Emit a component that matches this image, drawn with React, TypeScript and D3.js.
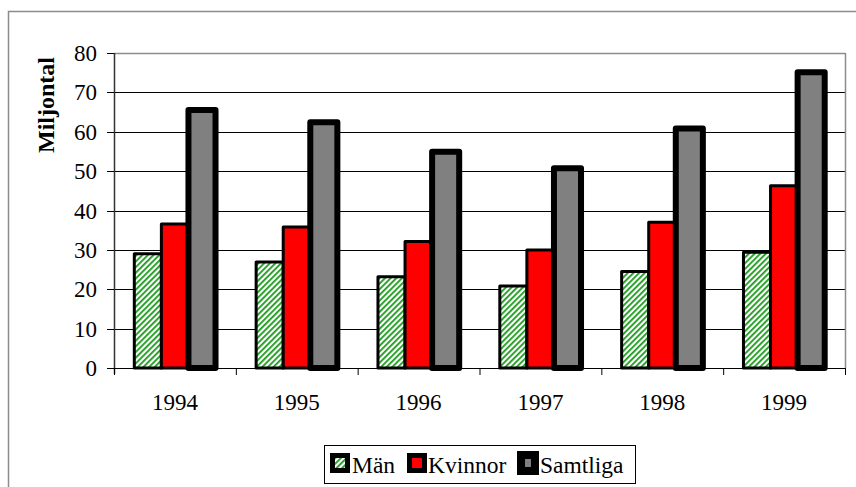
import React from "react";
import * as d3 from "d3";

const years = ["1994", "1995", "1996", "1997", "1998", "1999"];
const seriesNames = ["Män", "Kvinnor", "Samtliga"];
const man = [29, 26.9, 23.2, 20.8, 24.5, 29.4];
const kvinnor = [36.6, 35.8, 32.1, 30.0, 37.0, 46.3];
const samtliga = [65.5, 62.4, 54.9, 50.7, 60.8, 75.1];
const yTicks = [0, 10, 20, 30, 40, 50, 60, 70, 80];
const yTitle = "Miljontal";

const W = 856;
const H = 487;
const plot = { left: 114, right: 845, top: 53, bottom: 368 };

export default function App() {
  const values = [man, kvinnor, samtliga];
  const x0 = d3.scaleBand<string>().domain(years).range([plot.left, plot.right]).padding(0);
  const gw = x0.bandwidth();
  const bw = gw / 4.5;
  const x1 = d3
    .scaleBand<string>()
    .domain(seriesNames)
    .range([bw * 0.75, bw * 3.75])
    .padding(0);
  const y = d3.scaleLinear().domain([0, 80]).range([plot.bottom, plot.top]);

  const fills = ["url(#hatch)", "#ff0000", "#808080"];
  const strokes = [3, 3, 6];
  const fontStyle = { fontFamily: "Liberation Serif, DejaVu Serif, serif" };

  const boundaries = years.map((yr) => x0(yr) as number).concat([plot.right]);

  const legendItems = [
    { name: "Män", sw: 330, tx: 352 },
    { name: "Kvinnor", sw: 407, tx: 428 },
    { name: "Samtliga", sw: 517, tx: 540 },
  ];

  return (
    <div style={{ position: "absolute", left: 0, top: 0 }}>
      <svg width={W} height={H} style={{ display: "block" }}>
        <defs>
          <pattern id="hatch" patternUnits="userSpaceOnUse" width="4" height="4" patternTransform="rotate(45)">
            <rect width="4" height="4" fill="#ffffff" />
            <rect x="0" y="0" width="1.8" height="4" fill="#1a9a1a" />
          </pattern>
        </defs>
        <rect x={0} y={0} width={W} height={H} fill="#ffffff" />
        <rect x={8.5} y={11.5} width={900} height={600} fill="none" stroke="#8c8c8c" strokeWidth={1.5} />

        {yTicks
          .filter((t) => t !== 0 && t !== 80)
          .map((t) => (
            <line key={t} x1={plot.left} x2={plot.right} y1={Math.round(y(t)) + 0.5} y2={Math.round(y(t)) + 0.5} stroke="#000" strokeWidth={1} />
          ))}
        <line x1={plot.left} x2={plot.right} y1={plot.top + 0.5} y2={plot.top + 0.5} stroke="#8c8c8c" strokeWidth={1.5} />
        <line x1={plot.right + 0.5} x2={plot.right + 0.5} y1={plot.top} y2={plot.bottom} stroke="#8c8c8c" strokeWidth={1.5} />

        {years.map((yr, i) => (
          <g key={yr}>
            {values.map((vals, s) => {
              const bx = (x0(yr) as number) + (x1(seriesNames[s]) as number);
              const top = y(vals[i]);
              return (
                <rect
                  key={s}
                  x={bx}
                  y={top}
                  width={x1.bandwidth()}
                  height={y(0) - top}
                  fill={fills[s]}
                  stroke="#000"
                  strokeWidth={strokes[s]}
                  strokeLinejoin="round"
                />
              );
            })}
          </g>
        ))}

        <line x1={plot.left + 0.5} x2={plot.left + 0.5} y1={plot.top} y2={plot.bottom + 6} stroke="#333" strokeWidth={1.5} />
        {yTicks.map((t) => (
          <g key={t}>
            <line x1={plot.left - 7} x2={plot.left} y1={Math.round(y(t)) + 0.5} y2={Math.round(y(t)) + 0.5} stroke="#000" strokeWidth={1} />
            <text x={97} y={y(t)} dy="0.35em" textAnchor="end" style={fontStyle} fontSize={23} fill="#000">
              {t}
            </text>
          </g>
        ))}
        <line x1={plot.left} x2={plot.right} y1={plot.bottom + 0.5} y2={plot.bottom + 0.5} stroke="#000" strokeWidth={1} />
        {boundaries.map((bx, i) => (
          <line key={i} x1={bx + 0.5} x2={bx + 0.5} y1={plot.bottom} y2={plot.bottom + 7} stroke="#000" strokeWidth={1} />
        ))}
        {years.map((yr) => (
          <text
            key={yr}
            x={(x0(yr) as number) + gw / 2}
            y={410}
            textAnchor="middle"
            style={fontStyle}
            fontSize={23}
            fill="#000"
          >
            {yr}
          </text>
        ))}

        <text
          transform={`translate(54, 105) rotate(-90)`}
          textAnchor="middle"
          style={fontStyle}
          fontSize={24}
          fontWeight="bold"
          fill="#000"
        >
          {yTitle}
        </text>

        <rect x={324.5} y={445.5} width={311} height={38} fill="#fff" stroke="#000" strokeWidth={1} />
        {legendItems.map((it, s) => (
          <g key={it.name}>
            <rect
              x={it.sw + strokes[s] / 2 + 1}
              y={453 + strokes[s] / 2 + 1 - (s === 2 ? 2 : 0)}
              width={20 - strokes[s] - 2 + (s === 2 ? 2 : 0)}
              height={20 - strokes[s] - 2 + (s === 2 ? 4 : 0)}
              fill={fills[s]}
              stroke="#000"
              strokeWidth={strokes[s] + 2}
            />
            <text x={it.tx} y={473} style={fontStyle} fontSize={23.5} fill="#000">
              {it.name}
            </text>
          </g>
        ))}
      </svg>
    </div>
  );
}
